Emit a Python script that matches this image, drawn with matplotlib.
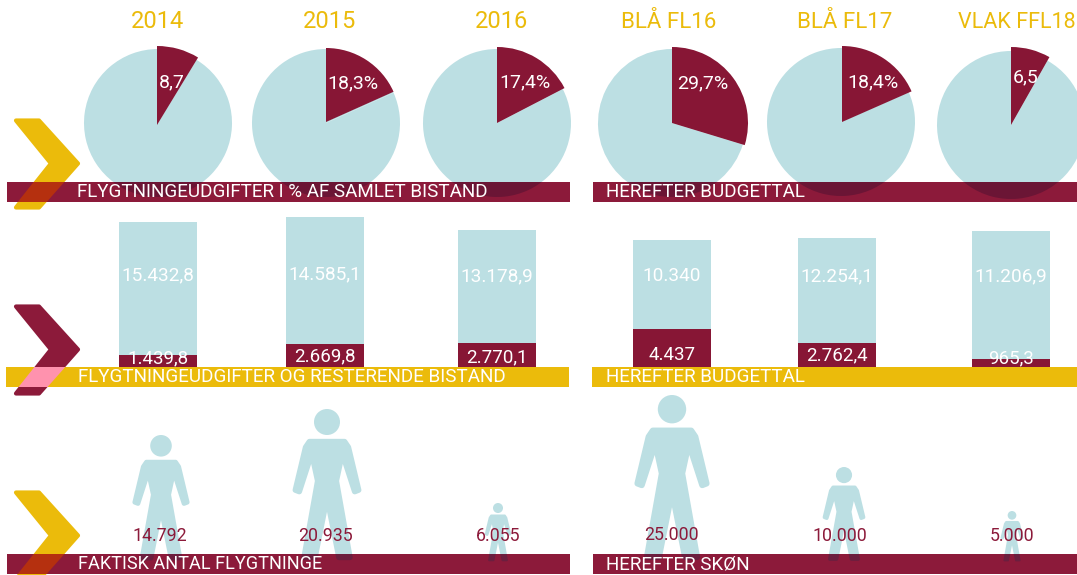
import numpy as np
import matplotlib
matplotlib.use("Agg")
import matplotlib.pyplot as plt
from matplotlib.patches import Polygon, Circle
from matplotlib.path import Path

# ---------- data ----------
years = ["2014", "2015", "2016", "BLÅ FL16", "BLÅ FL17", "VLAK FFL18"]
share_labels = ["8,7", "18,3%", "17,4%", "29,7%", "18,4%", "6,5"]
share_values = [8.7, 18.3, 17.4, 29.7, 18.4, 8.2]
refugee_spend = [1439.8, 2669.8, 2770.1, 4437, 2762.4, 965.3]
other_aid = [15432.8, 14800, 13178.9, 10340, 12254.1, 14880]
refugee_labels = ["1.439,8", "2.669,8", "2.770,1", "4.437", "2.762,4", "965,3"]
other_labels = ["15.432,8", "14.585,1", "13.178,9", "10.340", "12.254,1", "11.206,9"]
refugee_counts = [14792, 20935, 6055, 25000, 10000, 5000]
count_labels = ["14.792", "20.935", "6.055", "25.000", "10.000", "5.000"]
person_heights = [127, 153, 59, 167, 95, 51]
titles_left = ["FLYGTNINGEUDGIFTER I % AF SAMLET BISTAND",
               "FLYGTNINGEUDGIFTER OG RESTERENDE BISTAND",
               "FAKTISK ANTAL FLYGTNINGE"]
titles_right = ["HEREFTER BUDGETTAL", "HEREFTER BUDGETTAL", "HEREFTER SKØN"]

# ---------- style ----------
BLUE = "#bcdfe3"
RED = "#8c1a3a"
PIE_RED = "#871635"
YEL = "#ebbb0b"
DARK = "#6b1535"
plt.rcParams["font.family"] = ["Roboto", "DejaVu Sans"]
H = 575
def Y(y): return H - y

fig = plt.figure(figsize=(10.77, 5.75), dpi=100)
ax = fig.add_axes([0, 0, 1, 1])

def limits():
    ax.set_xlim(0, 1077); ax.set_ylim(0, H); ax.set_aspect("auto"); ax.axis("off")

def clip_to(artist, x0, x1, y0, y1):
    p = Path([(x0, Y(y0)), (x1, Y(y0)), (x1, Y(y1)), (x0, Y(y1)), (x0, Y(y0))])
    artist.set_clip_on(True)
    artist.set_clip_path(p, ax.transData)

# ---------- row 1: pies ----------
pie_cx = [158, 326, 497, 672, 841, 1011]
pie_cy = [123, 123, 123, 123, 122, 125]
red_cx = [157, 326, 497, 672, 842, 1011]
red_cy = [125, 122, 123, 123, 122, 125]
red_r = [79, 74, 76, 76, 76, 78]
year_y = [21, 21, 21, 23, 23, 23]
year_x = [158, 330, 502, 669, 845, 1017]
year_fs = [17, 17, 17, 16, 16, 15.5]
bands_x = [(7, 570), (593, 1077)]
label_x = [172, 353, 525, 703, 873, 1026]
label_y = [82, 83, 82, 83, 82, 77]
for i, v in enumerate(share_values):
    band = bands_x[0] if i < 3 else bands_x[1]
    w, _ = ax.pie([v, 100 - v], colors=[BLUE, BLUE], startangle=90, counterclock=False,
                  radius=74, center=(pie_cx[i], Y(pie_cy[i])))
    for s in w:
        s.set_linewidth(0); s.set_zorder(1)
    w2, _ = ax.pie([v, 100 - v], colors=[PIE_RED, "none"], startangle=90, counterclock=False,
                   radius=red_r[i], center=(red_cx[i], Y(red_cy[i])))
    w2[1].set_visible(False)
    w2[0].set_linewidth(0); w2[0].set_zorder(2)
    # darker overlap of the pie through the band
    w3, _ = ax.pie([v, 100 - v], colors=[DARK, DARK], startangle=90, counterclock=False,
                   radius=74, center=(pie_cx[i], Y(pie_cy[i])))
    for s in w3:
        s.set_linewidth(0); s.set_zorder(6)
        clip_to(s, band[0], band[1], 182, 202)
    ax.text(year_x[i], Y(year_y[i]), years[i], color=YEL, fontsize=year_fs[i], ha="center", va="center")
    ax.text(label_x[i], Y(label_y[i]), share_labels[i], color="white", fontsize=14, ha="center", va="center", zorder=7)

# ---------- row 2: bars ----------
PX = 0.0086
bar_x = [119, 286, 458, 633, 798, 972]
bar_w = 78
bar_base = 367
other_y = [275, 274, 276, 276, 276, 276]
ref_y = [358, 356, 357, 355, 355, 358]
for i in range(6):
    r = refugee_spend[i] * PX
    o = other_aid[i] * PX
    ax.bar(bar_x[i], r, bar_w, bottom=Y(bar_base), color=PIE_RED, align="edge", zorder=2)
    ax.bar(bar_x[i], o, bar_w, bottom=Y(bar_base) + r, color=BLUE, align="edge", zorder=2)
    ax.text(bar_x[i] + bar_w / 2, Y(other_y[i]), other_labels[i],
            color="white", fontsize=13.7, ha="center", va="center", zorder=3)
    ax.text(bar_x[i] + bar_w / 2, Y(ref_y[i]), refugee_labels[i],
            color="white", fontsize=13.5, ha="center", va="center", zorder=3)

# ---------- row 3: persons ----------
half = [(0, .213), (.115, .213), (.14, .25), (.207, .53), (.181, .54), (.10, .29),
        (.061, .47), (.15, .97), (.078, .97), (0, .58)]
person_x = [161, 327, 498, 672, 844, 1012]
person_feet = 562
band3_y = (554, 574)
count_x = [159.5, 325, 498, 671, 840, 1012]
count_y = [536, 536, 536, 535, 536, 536]

def person(cx, h, color, z, clip=None, with_head=True):
    pts = [(cx + a * h, Y(person_feet - h + b * h)) for a, b in half]
    pts += [(cx - a * h, Y(person_feet - h + b * h)) for a, b in reversed(half[1:-1])]
    poly = Polygon(pts, closed=True, fc=color, ec=color, lw=h * 0.036 * 0.72, joinstyle="round", zorder=z)
    ax.add_patch(poly)
    if clip is not None:
        clip_to(poly, *clip)
    if with_head:
        ax.add_patch(Circle((cx, Y(person_feet - h + .085 * h)), .085 * h, fc=color, ec="none", zorder=z))

for i, c in enumerate(refugee_counts):
    h = person_heights[i]
    person(person_x[i], h, BLUE, 1)
    band = (7, 570) if i < 3 else (593, 1077)
    person(person_x[i], h, "#6b1f3f", 6, clip=(band[0], band[1], *band3_y), with_head=False)
    ax.text(count_x[i], Y(count_y[i]), count_labels[i], color=RED, fontsize=12.8,
            ha="center", va="center", zorder=7)

# ---------- bands and chevrons ----------
bands = [((7, 570), (593, 1077), 182, 202, RED),
         ((6, 569), (592, 1077), 367, 387, YEL),
         ((7, 570), (593, 1077), 554, 574, RED)]
title_x = [(77, 606), (78, 606), (78, 606)]
title_fs = [13.6, 13.55, 13.05]
for k, (l, r, y0, y1, col) in enumerate(bands):
    for (x0, x1) in (l, r):
        ax.fill_between([x0, x1], Y(y1), Y(y0), color=col, lw=0, zorder=5)
    ax.text(title_x[k][0], Y((y0 + y1) / 2), titles_left[k], color="white", fontsize=title_fs[k], va="center", zorder=8)
    ax.text(title_x[k][1], Y((y0 + y1) / 2), titles_right[k], color="white", fontsize=13.6, va="center", zorder=8)

chev_tops = [119, 305, 491]
chev_cols = [YEL, RED, YEL]
chev_over = ["#b5300f", "#ff92ae", "#b5300f"]
for k, t in enumerate(chev_tops):
    pts = [(16, t + 1.5), (39, t + 1.5), (78, t + 44.5), (39, t + 88.5), (16, t + 88.5), (51, t + 44.5)]
    pts = [(x, Y(y)) for x, y in pts]
    ax.add_patch(Polygon(pts, closed=True, fc=chev_cols[k], ec=chev_cols[k], lw=3, joinstyle="round", zorder=4))
    over = Polygon(pts, closed=True, fc=chev_over[k], ec=chev_over[k], lw=3, joinstyle="round", zorder=7)
    ax.add_patch(over)
    l, r, y0, y1, _ = bands[k]
    clip_to(over, l[0], l[1], y0, y1)

limits()
fig.savefig("out.png", dpi=100)
